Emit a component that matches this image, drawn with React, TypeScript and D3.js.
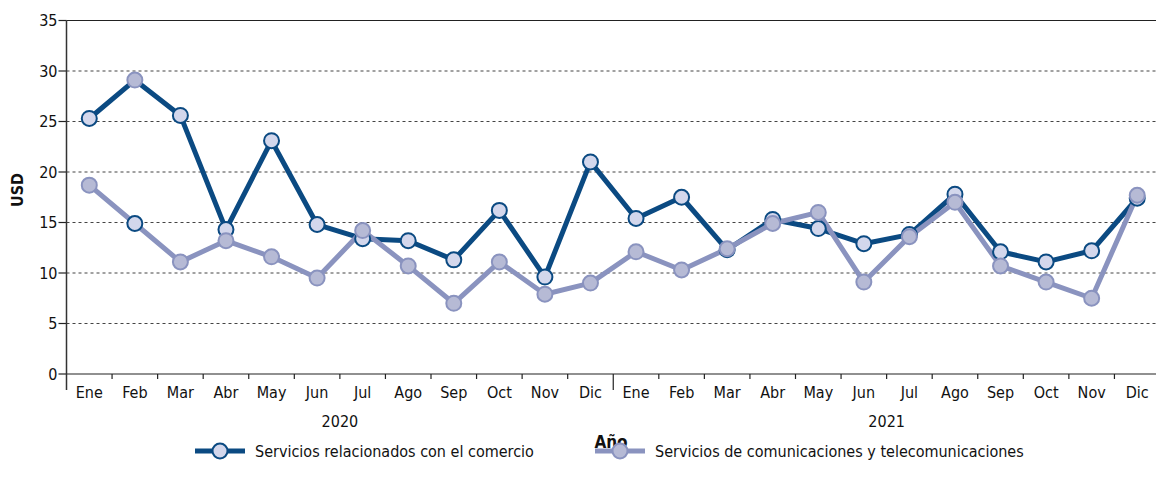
import React from "react";
import * as d3 from "d3";

const months = ["Ene","Feb","Mar","Abr","May","Jun","Jul","Ago","Sep","Oct","Nov","Dic"];
const years = ["2020", "2021"];
const yTicks = [0, 5, 10, 15, 20, 25, 30, 35];

// Line values
const comercio = [25.3,29.1,25.6,14.3,23.1,14.8,13.4,13.2,11.3,16.2,9.6,21.0,15.4,17.5,12.3,15.3,14.4,12.9,13.8,17.8,12.1,11.1,12.2,17.4];
const comunicaciones = [18.7,14.9,11.1,13.2,11.6,9.5,14.2,10.7,7.0,11.1,7.9,9.0,12.1,10.3,12.4,14.9,16.0,9.1,13.6,17.0,10.7,9.1,7.5,17.7];
// Marker values as drawn in the reference (Feb 2020 markers appear swapped)
const comercioMarkers = [25.3,14.9,25.6,14.3,23.1,14.8,13.4,13.2,11.3,16.2,9.6,21.0,15.4,17.5,12.3,15.3,14.4,12.9,13.8,17.8,12.1,11.1,12.2,17.4];
const comunicacionesMarkers = [18.7,29.1,11.1,13.2,11.6,9.5,14.2,10.7,7.0,11.1,7.9,9.0,12.1,10.3,12.4,14.9,16.0,9.1,13.6,17.0,10.7,9.1,7.5,17.7];

const seriesNames = ["Servicios relacionados con el comercio", "Servicios de comunicaciones y telecomunicaciones"];

const DARK = "#0b4a82";
const LIGHT = "#8a93bf";
const DARK_FILL = "#d3d7ec";
const LIGHT_FILL = "#b6bad5";
const FONT = "'Liberation Sans Narrow', 'DejaVu Sans Condensed', 'Roboto Condensed', sans-serif";

export default function App() {
  const W = 1156, H = 488;
  const left = 66.5, right = 1160, top = 20.5, bottom = 374;
  const cats = years.flatMap((y) => months.map((m) => `${m}-${y}`));
  const x = d3.scaleBand().domain(cats).range([left, right]);
  const y = d3.scaleLinear().domain([0, 35]).range([bottom, top]);
  const cx = (i: number) => (x(cats[i]) as number) + x.bandwidth() / 2;
  const line = d3.line<number>().x((_, i) => cx(i)).y((v) => y(v));

  return (
    <svg width={W} height={H} style={{ position: "absolute", left: 0, top: 0, fontFamily: FONT }}>
      <defs>
        <clipPath id="clip"><rect x={0} y={0} width={W} height={H} /></clipPath>
      </defs>
      {yTicks.map((t) => (
        <g key={t}>
          <line x1={left} x2={right} y1={y(t)} y2={y(t)} stroke={t === 0 || t === 35 ? "#222" : "#444"} strokeWidth={1.2} strokeDasharray={t === 0 || t === 35 ? undefined : "3,3"} />
          <line x1={left - 8} x2={left} y1={y(t)} y2={y(t)} stroke="#222" strokeWidth={1.2} />
          <text x={left - 9} y={y(t)} dy="0.35em" textAnchor="end" fontSize={16} fill="#111">{t}</text>
        </g>
      ))}
      <line x1={left} x2={left} y1={top} y2={390} stroke="#333" strokeWidth={1.5} />
      {cats.map((c, i) => {
        const bx = x(c) as number;
        return (
          <g key={c}>
            {i > 0 && <line x1={bx} x2={bx} y1={bottom} y2={i === 12 ? 390 : 379} stroke="#222" strokeWidth={1.2} />}
            <text x={cx(i)} y={398} textAnchor="middle" fontSize={16} fill="#111">{months[i % 12]}</text>
          </g>
        );
      })}
      {years.map((yr, k) => {
        const x0 = x(cats[k * 12]) as number;
        const x1 = (x(cats[k * 12 + 11]) as number) + x.bandwidth();
        return <text key={yr} x={(x0 + x1) / 2} y={427} textAnchor="middle" fontSize={16} fill="#111">{yr}</text>;
      })}
      <text x={611} y={448} textAnchor="middle" fontSize={17} fontWeight="bold" fill="#111">Año</text>
      <text transform="translate(23,190) rotate(-90)" textAnchor="middle" fontSize={16} fontWeight="bold" fill="#111">USD</text>

      <g>
        <path d={line(comercio) || ""} fill="none" stroke={DARK} strokeWidth={5} strokeLinejoin="round" />
        <path d={line(comunicaciones) || ""} fill="none" stroke={LIGHT} strokeWidth={5} strokeLinejoin="round" />
        {comercioMarkers.map((v, i) => (
          <circle key={"a" + i} cx={cx(i)} cy={y(v)} r={7.5} fill={DARK_FILL} stroke={DARK} strokeWidth={2} />
        ))}
        {comunicacionesMarkers.map((v, i) => (
          <circle key={"b" + i} cx={cx(i)} cy={y(v)} r={7.5} fill={LIGHT_FILL} stroke={LIGHT} strokeWidth={2} />
        ))}
      </g>

      {seriesNames.map((name, k) => {
        const lx = k === 0 ? 195 : 595;
        const ly = 451;
        return (
          <g key={name}>
            <line x1={lx} x2={lx + 50} y1={ly} y2={ly} stroke={k === 0 ? DARK : LIGHT} strokeWidth={5} />
            <circle cx={lx + 25} cy={ly} r={7.5} fill={k === 0 ? DARK_FILL : LIGHT_FILL} stroke={k === 0 ? DARK : LIGHT} strokeWidth={2} />
            <text x={lx + 60} y={ly} dy="0.35em" fontSize={16} fill="#111">{name}</text>
          </g>
        );
      })}
    </svg>
  );
}
